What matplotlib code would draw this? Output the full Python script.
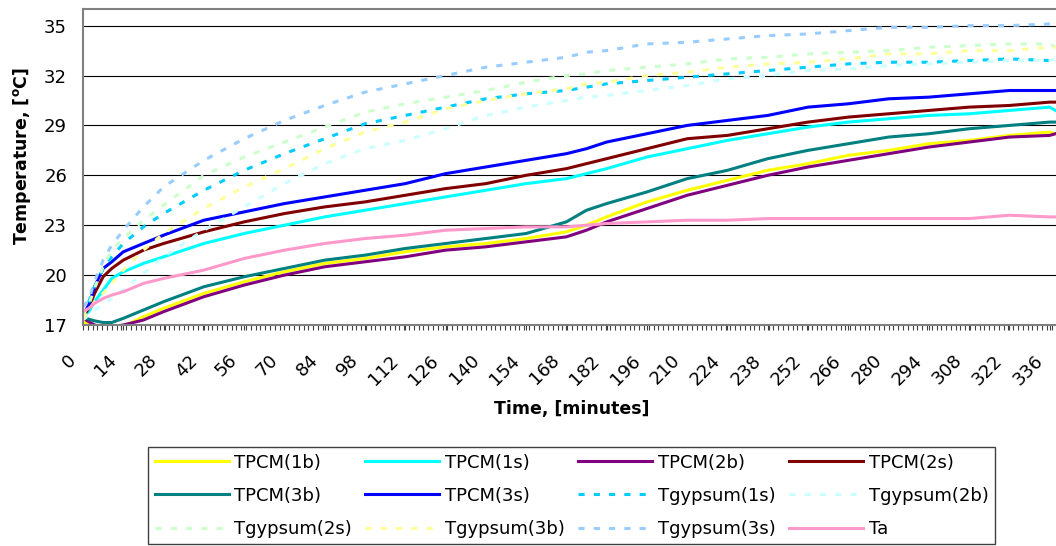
import matplotlib
matplotlib.use("Agg")
import matplotlib.pyplot as plt
from matplotlib.ticker import MultipleLocator
from matplotlib.transforms import ScaledTranslation

# ============== data (minutes, deg C) ==============
times = [0, 2, 4, 7, 10, 14, 21, 28, 42, 56, 70, 84, 98, 112, 126, 140, 154,
         168, 175, 182, 196, 210, 224, 238, 252, 266, 280, 294, 308, 322, 336, 338]

tpcm_1b = [17.2, 17.0, 16.9, 16.8, 16.8, 16.9, 17.5, 18.0, 18.9, 19.6, 20.2, 20.7, 21.0, 21.4, 21.7, 21.9,
           22.2, 22.6, 23.0, 23.5, 24.4, 25.1, 25.7, 26.3, 26.7, 27.2, 27.5, 27.9, 28.1, 28.4, 28.6, 28.5]
tpcm_1s = [17.5, 17.8, 18.4, 19.1, 19.8, 20.2, 20.7, 21.1, 21.9, 22.5, 23.0, 23.5, 23.9, 24.3, 24.7, 25.1,
           25.5, 25.8, 26.1, 26.4, 27.1, 27.6, 28.1, 28.5, 28.9, 29.2, 29.4, 29.6, 29.7, 29.9, 30.1, 29.9]
tpcm_2b = [17.4, 17.2, 17.0, 16.9, 16.9, 17.0, 17.3, 17.8, 18.7, 19.4, 20.0, 20.5, 20.8, 21.1, 21.5, 21.7,
           22.0, 22.3, 22.7, 23.2, 24.0, 24.8, 25.4, 26.0, 26.5, 26.9, 27.3, 27.7, 28.0, 28.3, 28.4, 28.5]
tpcm_2s = [17.5, 18.0, 18.9, 19.9, 20.4, 20.9, 21.5, 21.9, 22.6, 23.2, 23.7, 24.1, 24.4, 24.8, 25.2, 25.5,
           26.0, 26.4, 26.7, 27.0, 27.6, 28.2, 28.4, 28.8, 29.2, 29.5, 29.7, 29.9, 30.1, 30.2, 30.4, 30.4]
tpcm_3b = [17.5, 17.35, 17.25, 17.15, 17.15, 17.4, 17.9, 18.4, 19.3, 19.9, 20.4, 20.9, 21.2, 21.6, 21.9, 22.2,
           22.5, 23.2, 23.9, 24.3, 25.0, 25.8, 26.3, 27.0, 27.5, 27.9, 28.3, 28.5, 28.8, 29.0, 29.2, 29.2]
tpcm_3s = [17.6, 18.2, 19.3, 20.4, 20.8, 21.4, 21.9, 22.4, 23.3, 23.8, 24.3, 24.7, 25.1, 25.5, 26.1, 26.5,
           26.9, 27.3, 27.6, 28.0, 28.5, 29.0, 29.3, 29.6, 30.1, 30.3, 30.6, 30.7, 30.9, 31.1, 31.1, 31.1]
gyp_1s = [17.5, 18.4, 19.3, 20.4, 21.1, 21.9, 22.9, 23.7, 25.1, 26.3, 27.3, 28.2, 29.1, 29.6, 30.1, 30.6,
          30.9, 31.1, 31.3, 31.5, 31.7, 31.9, 32.1, 32.3, 32.5, 32.7, 32.8, 32.8, 32.9, 33.0, 32.9, 32.9]
gyp_2b = [17.3, 17.6, 17.9, 18.2, 18.6, 19.1, 20.1, 21.1, 22.7, 24.1, 25.5, 26.7, 27.6, 28.1, 28.8, 29.6,
          30.1, 30.5, 30.7, 30.8, 31.1, 31.4, 31.8, 32.0, 32.3, 32.4, 32.6, 32.7, 32.8, 32.9, 32.9, 33.0]
gyp_2s = [17.6, 18.2, 19.2, 20.5, 21.5, 22.2, 23.3, 24.2, 26.0, 27.1, 28.0, 28.9, 29.8, 30.3, 30.7, 31.1,
          31.6, 32.0, 32.1, 32.3, 32.5, 32.7, 33.0, 33.1, 33.3, 33.4, 33.5, 33.7, 33.8, 33.9, 33.9, 33.7]
gyp_3b = [17.4, 17.9, 18.4, 18.9, 19.5, 20.3, 21.5, 22.5, 24.0, 25.3, 26.4, 27.6, 28.6, 29.2, 30.0, 30.5,
          30.9, 31.2, 31.5, 31.6, 32.0, 32.2, 32.5, 32.7, 32.8, 33.0, 33.3, 33.3, 33.5, 33.5, 33.7, 33.7]
gyp_3s = [18.1, 18.5, 19.6, 20.9, 21.8, 22.7, 24.1, 25.3, 26.9, 28.2, 29.3, 30.2, 31.0, 31.5, 32.0, 32.5,
          32.8, 33.1, 33.4, 33.5, 33.9, 34.0, 34.2, 34.4, 34.5, 34.7, 34.9, 34.9, 35.0, 35.0, 35.1, 35.1]
ta = [17.8, 18.0, 18.3, 18.6, 18.8, 19.0, 19.5, 19.8, 20.3, 21.0, 21.5, 21.9, 22.2, 22.4, 22.7, 22.8,
      22.9, 22.9, 23.0, 23.1, 23.2, 23.3, 23.3, 23.4, 23.4, 23.4, 23.4, 23.4, 23.4, 23.6, 23.5, 23.5]

x_labels = list(range(0, 337, 14))
y_ticks = list(range(17, 36, 3))

# name, values, colour, dashed?
series = [
    ("TPCM(1b)", tpcm_1b, "#FFFF00", False),
    ("TPCM(1s)", tpcm_1s, "#00FFFF", False),
    ("TPCM(2b)", tpcm_2b, "#800080", False),
    ("TPCM(2s)", tpcm_2s, "#800000", False),
    ("TPCM(3b)", tpcm_3b, "#008080", False),
    ("TPCM(3s)", tpcm_3s, "#0000FF", False),
    ("Tgypsum(1s)", gyp_1s, "#00CCFF", True),
    ("Tgypsum(2b)", gyp_2b, "#CCFFFF", True),
    ("Tgypsum(2s)", gyp_2s, "#CCFFCC", True),
    ("Tgypsum(3b)", gyp_3b, "#FFFF99", True),
    ("Tgypsum(3s)", gyp_3s, "#99CCFF", True),
    ("Ta", ta, "#FF99CC", False),
]

W, H = 1056, 546
fig = plt.figure(figsize=(W / 100, H / 100), dpi=100)
ax = fig.add_axes([83 / W, (H - 325) / H, (W - 83) / W, 316 / H])

lines = {}
for name, vals, col, dashed in series:
    if dashed:
        ln, = ax.plot(times, vals, color=col, lw=2.2, dashes=(2, 3), label=name)
    else:
        ln, = ax.plot(times, vals, color=col, lw=2.2, label=name)
    lines[name] = ln

ax.set_xlim(0, 338.2)
ax.set_ylim(17, 36)
ax.set_yticks(y_ticks)
ax.tick_params(axis="y", length=0, pad=11.5, labelsize=13)
ax.yaxis.grid(True, color="black", lw=0.8)
ax.set_axisbelow(True)

ax.set_xticks(x_labels)
ax.xaxis.set_minor_locator(MultipleLocator(5 / 3))
ax.tick_params(axis="x", which="both", direction="out", length=3.6, width=0.8,
               color="#404040")
ax.tick_params(axis="x", which="major", pad=20, labelsize=13)
offset = ScaledTranslation(-9.5 / 100, 0, fig.dpi_scale_trans)
for lab in ax.get_xticklabels():
    lab.set_rotation(45)
    lab.set_ha("right")
    lab.set_va("center")
    lab.set_rotation_mode("anchor")
    lab.set_transform(lab.get_transform() + offset)

for side in ["left", "bottom", "top"]:
    ax.spines[side].set_color("#808080")
    ax.spines[side].set_linewidth(1.5)
ax.spines["right"].set_visible(False)

ax.set_xlabel("Time, [minutes]", fontsize=12.5, fontweight="bold", va="center")
ax.xaxis.set_label_coords(572 / W, 1 - 409 / H, transform=fig.transFigure)
ax.set_ylabel(r"Temperature, [$\mathbf{^{o}}$C]", fontsize=12.5, fontweight="bold", va="center")
ax.yaxis.set_label_coords(22 / W, 1 - 156 / H, transform=fig.transFigure)

# legend is filled column by column, so order names to give the row layout
order = ["TPCM(1b)", "TPCM(3b)", "Tgypsum(2s)",
         "TPCM(1s)", "TPCM(3s)", "Tgypsum(3b)",
         "TPCM(2b)", "Tgypsum(1s)", "Tgypsum(3s)",
         "TPCM(2s)", "Tgypsum(2b)", "Ta"]
leg = fig.legend([lines[n] for n in order], order, ncol=4, loc="upper left",
                 bbox_to_anchor=(148 / W, 1 - 447 / H), borderaxespad=0,
                 fontsize=13, handlelength=4.1, handletextpad=0.33,
                 columnspacing=0.72, labelspacing=0.84, borderpad=0.36,
                 fancybox=False, framealpha=1)
leg.get_frame().set_edgecolor("#404040")
leg.get_frame().set_linewidth(1.0)

fig.savefig("out.png", dpi=100)
